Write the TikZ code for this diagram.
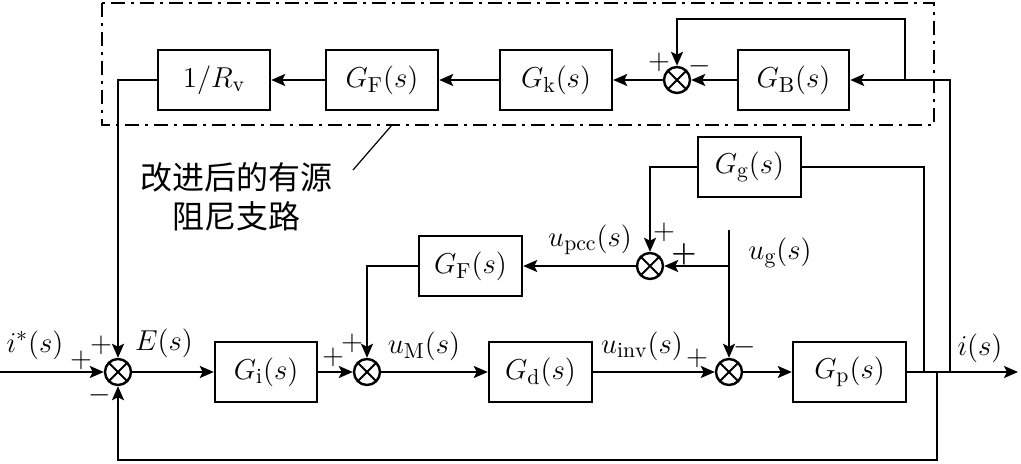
\documentclass[tikz,border=0pt]{standalone}
\usepackage{amsmath}
\usepackage{fontspec}
\newfontfamily\cjk{Noto Sans CJK SC}
\usetikzlibrary{
  calc,
  positioning,
  arrows.meta
}

\begin{document}
\begin{tikzpicture}[>={Stealth[length=7pt,width=6pt,inset=1.5pt]},
  x=0.5pt, y=-0.5pt, line width=1.2pt, font=\fontsize{15.5}{18}\selectfont]
  \tikzset{
    block/.style={draw, minimum width=56pt, minimum height=30pt, inner sep=0pt},
    sumnode/.style={draw, circle, minimum size=13pt, inner sep=0pt,
      path picture={
        \draw[line width=1pt] (path picture bounding box.north west) -- (path picture bounding box.south east);
        \draw[line width=1pt] (path picture bounding box.south west) -- (path picture bounding box.north east);
      }
    },
    dashbox/.style={dash pattern=on 7pt off 3pt on 1.5pt off 3pt},
    sign/.style={inner sep=0pt},
  }
\useasboundingbox (0,0) rectangle (1021,464);

% damping branch
\draw[dashbox] (102,3) rectangle (934,125);
\node[block] (rv) at (214,80) {$1/R_{\mathrm{v}}$};
\node[block] (gfa) at (382,80) {$G_{\mathrm{F}}(s)$};
\node[block] (gk) at (556,80) {$G_{\mathrm{k}}(s)$};
\node[sumnode] (sumb) at (677,80) {};
\node[block, minimum width=55.5pt] (gb) at (793.5,80) {$G_{\mathrm{B}}(s)$};

% grid part
\node[block, minimum width=51.5pt] (gg) at (749.5,167) {$G_{\mathrm{g}}(s)$};
\node[block, minimum width=51.5pt] (gfb) at (470.5,266) {$G_{\mathrm{F}}(s)$};
\node[sumnode] (sumg) at (650,266) {};

% main loop
\node[sumnode] (sume) at (118,372) {};
\node[block, minimum width=51pt] (gi) at (266,372) {$G_{\mathrm{i}}(s)$};
\node[sumnode] (summ) at (367,372) {};
\node[block, minimum width=51.5pt] (gd) at (540.5,372) {$G_{\mathrm{d}}(s)$};
\node[sumnode] (sumu) at (729,372) {};
\node[block, minimum width=56.5pt] (gp) at (849.5,372) {$G_{\mathrm{p}}(s)$};

\coordinate (in) at (0,372);
\coordinate (out) at (1018,372);
\coordinate (tapg) at (924,372);
\coordinate (tapf) at (937,372);
\coordinate (tapo) at (950,372);
\coordinate (tapb) at (905,80);
\coordinate (topb) at (905,19);
\coordinate (fbot) at (937,460);
\coordinate (ugtop) at (729,230);
\coordinate (ugmid) at (729,266);
\coordinate (lead) at (353,170);
\coordinate (leadtop) at (392,125);

\draw[->] (in) -- (sume.west);
\draw[->] (sume.east) -- (gi.west);
\draw[->] (gi.east) -- (summ.west);
\draw[->] (summ.east) -- (gd.west);
\draw[->] (gd.east) -- (sumu.west);
\draw[->] (sumu.east) -- (gp.west);
\draw[->] (gp.east) -- (out);
\draw[->] (tapf) -- (fbot) -| (sume.south);

\draw[->] (tapo) |- (gb.east);
\draw[->] (gb.west) -- (sumb.east);
\draw[->] (tapb) -- (topb) -| (sumb.north);
\draw[->] (sumb.west) -- (gk.east);
\draw[->] (gk.west) -- (gfa.east);
\draw[->] (gfa.west) -- (rv.east);
\draw[->] (rv.west) -| (sume.north);

\draw (tapg) |- (gg.east);
\draw[->] (gg.west) -| (sumg.north);
\draw (ugtop) -- (ugmid);
\draw[->] (ugmid) -- (sumg.east);
\draw[->] (ugmid) -- (sumu.north);
\draw[->] (sumg.west) -- (gfb.east);
\draw[->] (gfb.west) -| (summ.north);

% signals and signs
\node (istar) at (35,345) {$i^{*}(s)$};
\node[sign] (pe1) at (81,360) {$+$};
\node[sign] (pe2) at (101,345) {$+$};
\node[sign] (me1) at (100,395) {$-$};
\node (esig) at (164,343) {$E(s)$};
\node[sign] (pm1) at (333,357) {$+$};
\node[sign] (pm2) at (352,343) {$+$};
\node (umsig) at (424,346) {$u_{\mathrm{M}}(s)$};
\node (uinv) at (642,346) {$u_{\mathrm{inv}}(s)$};
\node[sign] (pu1) at (697,358) {$+$};
\node[sign] (mu1) at (745,347) {$-$};
\node (isig) at (980,348) {$i(s)$};
\node (upcc) at (590,240) {$u_{\mathrm{pcc}}(s)$};
\node[sign] (pg1) at (664,232) {$+$};
\node[sign] (pg2) at (684,254) {$\boldsymbol{+}$};
\node (ugsig) at (780,253) {$u_{\mathrm{g}}(s)$};
\node[sign] (pb1) at (659,62) {$+$};
\node[sign] (mb1) at (700,66) {$-$};

\node[font=\cjk\fontsize{16}{19.5}\selectfont, align=center] (note) at (236,197) {改进后的有源\\阻尼支路};
\draw[line width=0.6pt] (lead) -- (leadtop);

\end{tikzpicture}
\end{document}
